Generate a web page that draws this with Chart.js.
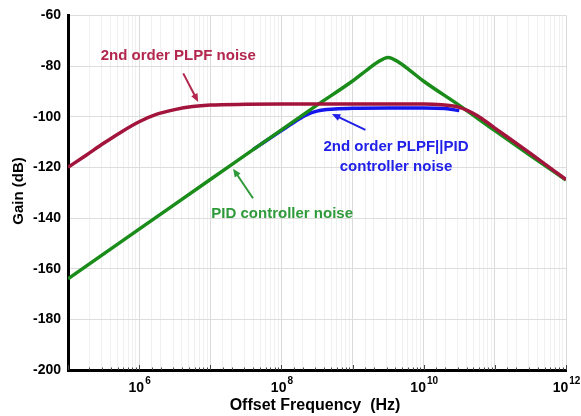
<!DOCTYPE html>
<html>
<head>
<meta charset="utf-8">
<script src="https://cdn.jsdelivr.net/npm/chart.js@4.4.1/dist/chart.umd.min.js"></script>
<style>
  body { margin: 0; background: #fff; }
  canvas { display: block; }
</style>
</head>
<body>
<canvas id="gainChart" width="581" height="416"></canvas>
<script>
// частоты заданы показателем степени (log10 Гц), значения — в дБ
const redLogF = [5, 5.25, 5.5, 5.75, 6, 6.25, 6.5, 6.75, 7, 7.5, 8, 9, 10, 10.25, 10.5, 10.75, 11, 11.5, 12];
const redGain = [-120, -115.3, -110.5, -106, -102, -99, -97.2, -96, -95.4, -95.1, -95, -95, -95, -95.3, -96.3, -99.5, -104.5, -114.5, -124.8];

const greenLogF = [5, 6, 7, 8, 8.5, 9, 9.2, 9.35, 9.5, 9.65, 9.8, 10, 10.5, 11, 11.5, 12];
const greenGain = [-164, -144.4, -124.8, -105.2, -95.4, -85.9, -81.6, -78.5, -76.6, -78.5, -81.6, -86, -95.5, -105.5, -115.3, -125];

const blueLogF = [7.6, 8, 8.2, 8.35, 8.5, 8.75, 9, 9.5, 10, 10.3, 10.5];
const blueGain = [-113, -105.5, -101.8, -99.3, -97.8, -97, -96.7, -96.6, -96.6, -96.8, -97.6];

const xTickExp = [6, 8, 10, 12];
const yTicks = [-200, -180, -160, -140, -120, -100, -80, -60];

const FONT = "'Liberation Sans', Arial, sans-serif";

// подписи со стрелками (координаты в единицах данных: log10 f, дБ)
const notes = [
  { lines: ["2nd order PLPF noise"], color: "#b3264d", at: [6.55, -75.8], from: [6.62, -82.9], to: [6.83, -94.2] },
  { lines: ["2nd order PLPF||PID", "controller noise"], color: "#2020e8", at: [9.61, -111.9], from: [9.18, -105.2], to: [8.71, -98.9] },
  { lines: ["PID controller noise"], color: "#2f9a3a", at: [8.01, -138.5], from: [7.6, -132.2], to: [7.32, -120.5] },
];

function toPoints(logF, gain) {
  return logF.map((e, i) => ({ x: Math.pow(10, e), y: gain[i] }));
}

function isDecade(v) {
  const e = Math.log10(v);
  return Math.abs(e - Math.round(e)) < 1e-6;
}

const extrasPlugin = {
  id: "extras",
  afterDraw(chart) {
    const { ctx, scales } = chart;
    const xs = scales.x, ys = scales.y;
    const area = chart.chartArea;
    ctx.save();

    // мелкие засечки на нижней оси
    ctx.strokeStyle = "#444";
    ctx.lineWidth = 1;
    xs.ticks.forEach((t) => {
      const px = Math.round(xs.getPixelForValue(t.value)) + 0.5;
      const len = isDecade(t.value) ? 5 : 2.5;
      ctx.beginPath();
      ctx.moveTo(px, area.bottom);
      ctx.lineTo(px, area.bottom - len);
      ctx.stroke();
    });

    // подписи оси X: 10^n
    ctx.fillStyle = "#000";
    ctx.textBaseline = "alphabetic";
    xTickExp.forEach((e) => {
      const px = xs.getPixelForValue(Math.pow(10, e));
      ctx.font = "bold 14px " + FONT;
      const base = "10";
      const wb = ctx.measureText(base).width;
      ctx.font = "bold 10px " + FONT;
      const sup = String(e);
      const ws = ctx.measureText(sup).width;
      const left = px - (wb + ws) / 2;
      ctx.font = "bold 14px " + FONT;
      ctx.textAlign = "left";
      ctx.fillText(base, left, area.bottom + 22);
      ctx.font = "bold 10px " + FONT;
      ctx.fillText(sup, left + wb + 1, area.bottom + 14);
    });

    // заголовки осей
    ctx.font = "bold 16px " + FONT;
    ctx.textAlign = "center";
    ctx.textBaseline = "middle";
    ctx.fillText("Offset Frequency  (Hz)", 315, 406);
    ctx.save();
    ctx.translate(19, 191);
    ctx.rotate(-Math.PI / 2);
    ctx.font = "bold 15px " + FONT;
    ctx.fillText("Gain (dB)", 0, 0);
    ctx.restore();

    // аннотации
    notes.forEach((n) => {
      const cx = xs.getPixelForValue(Math.pow(10, n.at[0]));
      const cy = ys.getPixelForValue(n.at[1]);
      ctx.fillStyle = n.color;
      ctx.font = "bold 15px " + FONT;
      ctx.textAlign = "center";
      ctx.textBaseline = "middle";
      n.lines.forEach((line, i) => ctx.fillText(line, cx, cy + i * 20));

      const x1 = xs.getPixelForValue(Math.pow(10, n.from[0]));
      const y1 = ys.getPixelForValue(n.from[1]);
      const x2 = xs.getPixelForValue(Math.pow(10, n.to[0]));
      const y2 = ys.getPixelForValue(n.to[1]);
      const ang = Math.atan2(y2 - y1, x2 - x1);
      ctx.strokeStyle = n.color;
      ctx.lineWidth = 2;
      ctx.beginPath();
      ctx.moveTo(x1, y1);
      ctx.lineTo(x2 - 4 * Math.cos(ang), y2 - 4 * Math.sin(ang));
      ctx.stroke();
      ctx.beginPath();
      ctx.moveTo(x2, y2);
      ctx.lineTo(x2 - 9 * Math.cos(ang - 0.4), y2 - 9 * Math.sin(ang - 0.4));
      ctx.lineTo(x2 - 9 * Math.cos(ang + 0.4), y2 - 9 * Math.sin(ang + 0.4));
      ctx.closePath();
      ctx.fill();
    });

    ctx.restore();
  },
};

const lineStyle = {
  borderWidth: 3.5,
  pointRadius: 0,
  fill: false,
  cubicInterpolationMode: "monotone",
};

new Chart(document.getElementById("gainChart"), {
  type: "line",
  data: {
    datasets: [
      { label: "2nd order PLPF noise", data: toPoints(redLogF, redGain), borderColor: "#a3143c", ...lineStyle },
      { label: "PID controller noise", data: toPoints(greenLogF, greenGain), borderColor: "#1a8c1a", ...lineStyle },
      { label: "2nd order PLPF||PID controller noise", data: toPoints(blueLogF, blueGain), borderColor: "#1515ee", ...lineStyle },
    ],
  },
  options: {
    responsive: false,
    animation: false,
    layout: { padding: { left: 0, right: 15, top: 12, bottom: 0 } },
    plugins: {
      legend: { display: false },
      tooltip: { enabled: false },
    },
    scales: {
      x: {
        type: "logarithmic",
        min: 1e5,
        max: 1e12,
        ticks: { display: false },
        grid: {
          color: (c) => (c.tick && isDecade(c.tick.value) ? "#dadada" : "#f0f0f0"),
          lineWidth: 1,
          drawTicks: false,
        },
        border: { display: true, color: "#000", width: 3 },
        afterFit: (s) => { s.height = 46; },
      },
      y: {
        min: -200,
        max: -60,
        afterBuildTicks: (s) => { s.ticks = yTicks.map((v) => ({ value: v })); },
        ticks: {
          color: "#000",
          padding: 7,
          font: { family: FONT, size: 14, weight: "bold" },
        },
        grid: { color: "#dddddd", lineWidth: 1, drawTicks: false },
        border: { display: true, color: "#000", width: 3 },
        afterFit: (s) => { s.width = 68; },
      },
    },
  },
  plugins: [extrasPlugin],
});
</script>
</body>
</html>
